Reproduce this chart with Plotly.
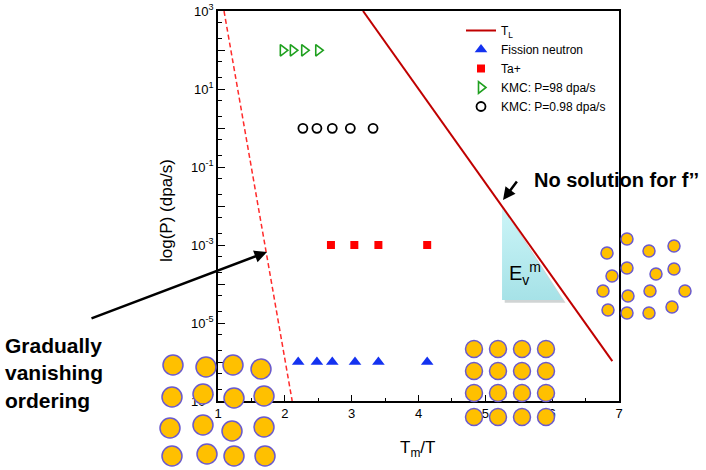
import plotly.graph_objects as go

W, H = 706, 470

# T_L line and the dashed ordering limit
tl_x = [3.17, 6.90]
tl_p = [1e3, 1.05e-6]
dash_x = [1.09, 2.11]
dash_p = [1e3, 1e-7]

# measured / simulated points
fission_x = [2.20, 2.48, 2.71, 3.05, 3.40, 4.13]
fission_p = [1e-6, 1e-6, 1e-6, 1e-6, 1e-6, 1e-6]
ta_x = [2.69, 3.04, 3.40, 4.13]
ta_p = [1e-3, 1e-3, 1e-3, 1e-3]
kmc98_x = [1.97, 2.12, 2.29, 2.50]
kmc98_p = [98, 98, 98, 98]
kmc098_x = [2.27, 2.48, 2.71, 2.98, 3.32]
kmc098_p = [0.98, 0.98, 0.98, 0.98, 0.98]

# E_v^m triangle under the T_L line
tri_x = [5.25, 5.25, 6.16, 5.25]
tri_p = [9.3e-3, 3.9e-5, 3.9e-5, 9.3e-3]
shadow_x = [5.29, 5.29, 6.20, 5.29]
shadow_p = [8.0e-3, 3.3e-5, 3.3e-5, 8.0e-3]

ytick_vals = [1e-7, 1e-6, 1e-5, 1e-4, 1e-3, 1e-2, 1e-1, 1, 10, 100, 1e3]
ytick_text = ["10<sup>-7</sup>", "", "10<sup>-5</sup>", "", "10<sup>-3</sup>", "",
              "10<sup>-1</sup>", "", "10<sup>1</sup>", "", "10<sup>3</sup>"]

# atom lattice pictures, in page pixels
left_x = [173, 206, 233, 261, 172, 203, 234, 264, 170, 203, 232, 264, 172, 207, 234, 265]
left_y = [365, 367, 365, 369, 397, 394, 398, 396, 428, 425, 431, 427, 456, 454, 456, 456]
mid_x = [474, 498, 522, 546] * 4
mid_y = [349] * 4 + [371] * 4 + [393] * 4 + [417] * 4
right_x = [627, 607, 649, 674, 612, 627, 656, 674, 603, 628, 650, 685, 608, 627, 649, 672]
right_y = [239, 253, 251, 246, 276, 268, 274, 269, 291, 296, 291, 291, 310, 313, 313, 307]

font = "Arial, Liberation Sans, sans-serif"


def fx(px):
    return px / W


def fy(py):
    return 1 - py / H


fig = go.Figure()

fig.add_trace(go.Scatter(x=shadow_x, y=shadow_p, fill="toself", mode="none",
                         fillcolor="rgba(150,160,160,0.45)", showlegend=False, hoverinfo="skip"))
fig.add_trace(go.Scatter(x=tri_x, y=tri_p, fill="toself", mode="none",
                         fillgradient=dict(type="vertical",
                                           colorscale=[[0, "#a6e2e7"], [1, "#ccf5f8"]]),
                         showlegend=False, hoverinfo="skip"))
fig.add_trace(go.Scatter(x=dash_x, y=dash_p, mode="lines", showlegend=False,
                         line=dict(color="#ff2a2a", width=1.5, dash="5px,3px")))
fig.add_trace(go.Scatter(x=tl_x, y=tl_p, mode="lines", name="T<sub>L</sub>",
                         line=dict(color="#c00000", width=2)))
fig.add_trace(go.Scatter(x=fission_x, y=fission_p, mode="markers", name="Fission neutron",
                         marker=dict(symbol="triangle-up", size=11, color="#1432f0")))
fig.add_trace(go.Scatter(x=ta_x, y=ta_p, mode="markers", name="Ta+",
                         marker=dict(symbol="square", size=8, color="#ff0000")))
fig.add_trace(go.Scatter(x=kmc98_x, y=kmc98_p, mode="markers", name="KMC: P=98 dpa/s",
                         marker=dict(symbol="triangle-right-open", size=10,
                                     color="#1fa01f", line=dict(width=1.6))))
fig.add_trace(go.Scatter(x=kmc098_x, y=kmc098_p, mode="markers", name="KMC: P=0.98 dpa/s",
                         marker=dict(symbol="circle-open", size=9, color="black",
                                     line=dict(width=1.8))))

lattice = dict(color="#ffc000", line=dict(color="#6a5acd", width=1.5))
fig.add_trace(go.Scatter(x=left_x, y=left_y, mode="markers", xaxis="x2", yaxis="y2",
                         marker=dict(size=20, **lattice), showlegend=False, hoverinfo="skip"))
fig.add_trace(go.Scatter(x=mid_x, y=mid_y, mode="markers", xaxis="x2", yaxis="y2",
                         marker=dict(size=17, **lattice), showlegend=False, hoverinfo="skip"))
fig.add_trace(go.Scatter(x=right_x, y=right_y, mode="markers", xaxis="x2", yaxis="y2",
                         marker=dict(size=12, **lattice), showlegend=False, hoverinfo="skip"))

fig.update_layout(
    width=W, height=H,
    margin=dict(l=0, r=0, t=0, b=0, autoexpand=False),
    paper_bgcolor="white", plot_bgcolor="rgba(0,0,0,0)",
    font=dict(family=font, size=13, color="black"),
    xaxis=dict(domain=[fx(218), fx(619)], range=[1, 7], showgrid=False, zeroline=False,
               showline=True, linecolor="black", linewidth=1.5, mirror=True,
               ticks="inside", ticklen=6, tickwidth=1.2, dtick=1, tickcolor="black",
               minor=dict(ticks="inside", ticklen=3, dtick=0.5, tickcolor="black"),
               anchor="y", layer="below traces", automargin=False,
               ticklabeloverflow="allow"),
    yaxis=dict(domain=[fy(401), fy(11)], type="log", range=[-7, 3], showgrid=False,
               zeroline=False, showline=True, linecolor="black", linewidth=1.5, mirror=True,
               ticks="inside", ticklen=7, tickwidth=1.2, tickcolor="black",
               tickmode="array", tickvals=ytick_vals, ticktext=ytick_text,
               minor=dict(ticks="inside", ticklen=4, tickcolor="black"),
               anchor="x", layer="below traces", automargin=False,
               ticklabeloverflow="allow"),
    xaxis2=dict(domain=[0, 1], range=[0, W], visible=False, anchor="y2", fixedrange=True),
    yaxis2=dict(domain=[0, 1], range=[H, 0], visible=False, anchor="x2", fixedrange=True),
    legend=dict(x=fx(461), y=fy(16), xanchor="left", yanchor="top",
                bgcolor="rgba(0,0,0,0)", font=dict(size=12), tracegroupgap=0),
    showlegend=True,
)

# axis titles
fig.add_annotation(x=fx(417), y=fy(449), xref="paper", yref="paper",
                   text="T<sub>m</sub>/T", showarrow=False, font=dict(size=17),
                   xanchor="center", yanchor="middle")
fig.add_annotation(x=fx(167), y=fy(211), xref="paper", yref="paper",
                   text="log(P) (dpa/s)", showarrow=False, textangle=-90,
                   font=dict(size=17), xanchor="center", yanchor="middle")

fig.add_annotation(x=fx(503), y=fy(200), xref="paper", yref="paper", text="",
                   showarrow=True, ax=15, ay=-20, arrowhead=2, arrowsize=1,
                   arrowwidth=2.5, arrowcolor="black")
fig.add_annotation(x=fx(532), y=fy(180), xref="paper", yref="paper",
                   text="<b>No solution for f’’</b>", showarrow=False,
                   xanchor="left", yanchor="middle", font=dict(size=20))
fig.add_annotation(x=fx(267), y=fy(252), xref="paper", yref="paper", text="",
                   showarrow=True, ax=-177, ay=67, arrowhead=2, arrowsize=1,
                   arrowwidth=2.5, arrowcolor="black")
fig.add_annotation(x=fx(3), y=fy(373), xref="paper", yref="paper",
                   text="<b>Gradually<br>vanishing<br>ordering</b>", showarrow=False,
                   xanchor="left", yanchor="middle", align="left", font=dict(size=21))
fig.add_annotation(x=fx(507), y=fy(273), xref="paper", yref="paper",
                   text="E<sub>v</sub><sup>m</sup>", showarrow=False,
                   xanchor="left", yanchor="middle", font=dict(size=20))

# the page body has an 8px default margin; drop it so the figure sits at (0, 0)
fig.write_html("out.html", config={"displayModeBar": False},
               post_script="document.body.style.margin='0';")
